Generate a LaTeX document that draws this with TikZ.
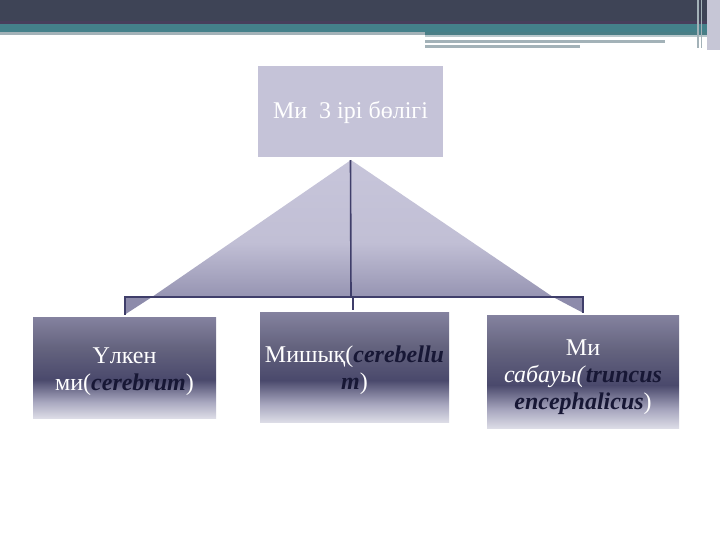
\documentclass[tikz,border=0pt]{standalone}
\usepackage{fontspec}
\setmainfont{Liberation Serif}
\definecolor{hdark}{HTML}{3E4456}
\definecolor{hpurple}{HTML}{483F5C}
\definecolor{hteal}{HTML}{44808A}
\definecolor{hteal2}{HTML}{4A7E86}
\definecolor{hgray}{HTML}{A3B2B8}
\definecolor{hgray2}{HTML}{B9C8CC}
\definecolor{hlav}{HTML}{C6C6D6}
\definecolor{topfill}{HTML}{C5C3D8}
\definecolor{bxtop}{HTML}{84829F}
\definecolor{bxup}{HTML}{65647F}
\definecolor{bxdark}{HTML}{4A496C}
\definecolor{bxmid}{HTML}{A8A7BF}
\definecolor{bxlo}{HTML}{DCDCE6}
\definecolor{trtop}{HTML}{C7C5DA}
\definecolor{trmid}{HTML}{C1BFD5}
\definecolor{trlo}{HTML}{9694B2}
\definecolor{corner}{HTML}{8D8BAB}
\definecolor{barcol}{HTML}{3F3E6A}
\definecolor{txtdark}{HTML}{171735}
\pgfdeclareverticalshading{boxshade}{100bp}{color(0bp)=(bxlo); color(25bp)=(bxlo); color(33bp)=(bxmid); color(44bp)=(bxdark); color(60bp)=(bxup); color(75bp)=(bxtop); color(100bp)=(bxtop)}
\pgfdeclareverticalshading{trishade}{100bp}{color(0bp)=(trlo); color(25bp)=(trlo); color(45bp)=(trmid); color(75bp)=(trtop); color(100bp)=(trtop)}
\newcommand{\lat}[1]{\textcolor{txtdark}{\bfseries\itshape #1}}
\begin{document}
\begin{tikzpicture}[x=1pt,y=-1pt,
  topbox/.style={fill=topfill, minimum width=185pt, minimum height=91pt, inner sep=0pt, text=white, font=\fontsize{24}{28}\selectfont},
  lowbox/.style={shading=boxshade, inner sep=0pt, text=white, align=center, font=\fontsize{24}{27}\selectfont},
  bracket/.style={draw=barcol, line width=2pt},
  stem/.style={draw=barcol, line width=1.6pt}]
\useasboundingbox (0,0) rectangle (720,540);
\fill[white] (0,0) rectangle (720,540);
% header bands
\fill[hdark] (0,0) rectangle (720,21);
\fill[hpurple] (0,21) rectangle (720,24);
\fill[hteal] (0,24) rectangle (720,32);
\fill[hgray] (0,32) rectangle (425,35.5);
\fill[hteal2] (425,32) rectangle (720,35.5);
\fill[hgray2] (425,35.5) rectangle (720,37.5);
\fill[hgray] (425,40.5) rectangle (665,43);
\fill[hgray] (425,45) rectangle (580,48);
\fill[hlav] (707,0) rectangle (720,50);
\fill[hgray] (697,0) rectangle (699,48);
\fill[hgray] (701,0) rectangle (702,48);
% nodes
\node[topbox] (top) at (350.5,111.5) {\rule{0pt}{19pt}Ми\ \ 3 ірі бөлігі};
\node[lowbox, minimum width=183pt, minimum height=101pt] (b1) at (124.5,367.5) {\rule{0pt}{24pt}Үлкен\\ми(\lat{cerebrum})};
\node[lowbox, minimum width=189pt, minimum height=110pt] (b2) at (354.5,367) {\rule{0pt}{24pt}Мишық(\lat{cerebellu}\\\lat{m})};
\node[lowbox, minimum width=192pt, minimum height=113pt] (b3) at (583,371.5) {\rule{0pt}{28pt}Ми\\\textit{сабауы(}\lat{truncus}\\\lat{encephalicus})};
% connector shapes
\coordinate (apex) at (351,160);
\coordinate (bar) at (351,297);
\coordinate (bl) at (b1.north |- bar);
\coordinate (br) at (b3.north |- bar);
\shade[shading=trishade] (apex) -- (152,297) -- (553,297) -- cycle;
\fill[corner] (bl) -- (152,297) -- ([yshift=2pt]b1.north) -- cycle;
\fill[corner] (br) -- (553,297) -- ([yshift=2pt]b3.north) -- cycle;
\draw[stem] ([yshift=-3pt]top.south) -- (bar);
\draw[bracket] ([yshift=2pt]b1.north) -- (bl) -- (br) -- ([yshift=2pt]b3.north);
\draw[stem, line width=1.2pt] (353,297) -- (353,310);
\end{tikzpicture}
\end{document}
